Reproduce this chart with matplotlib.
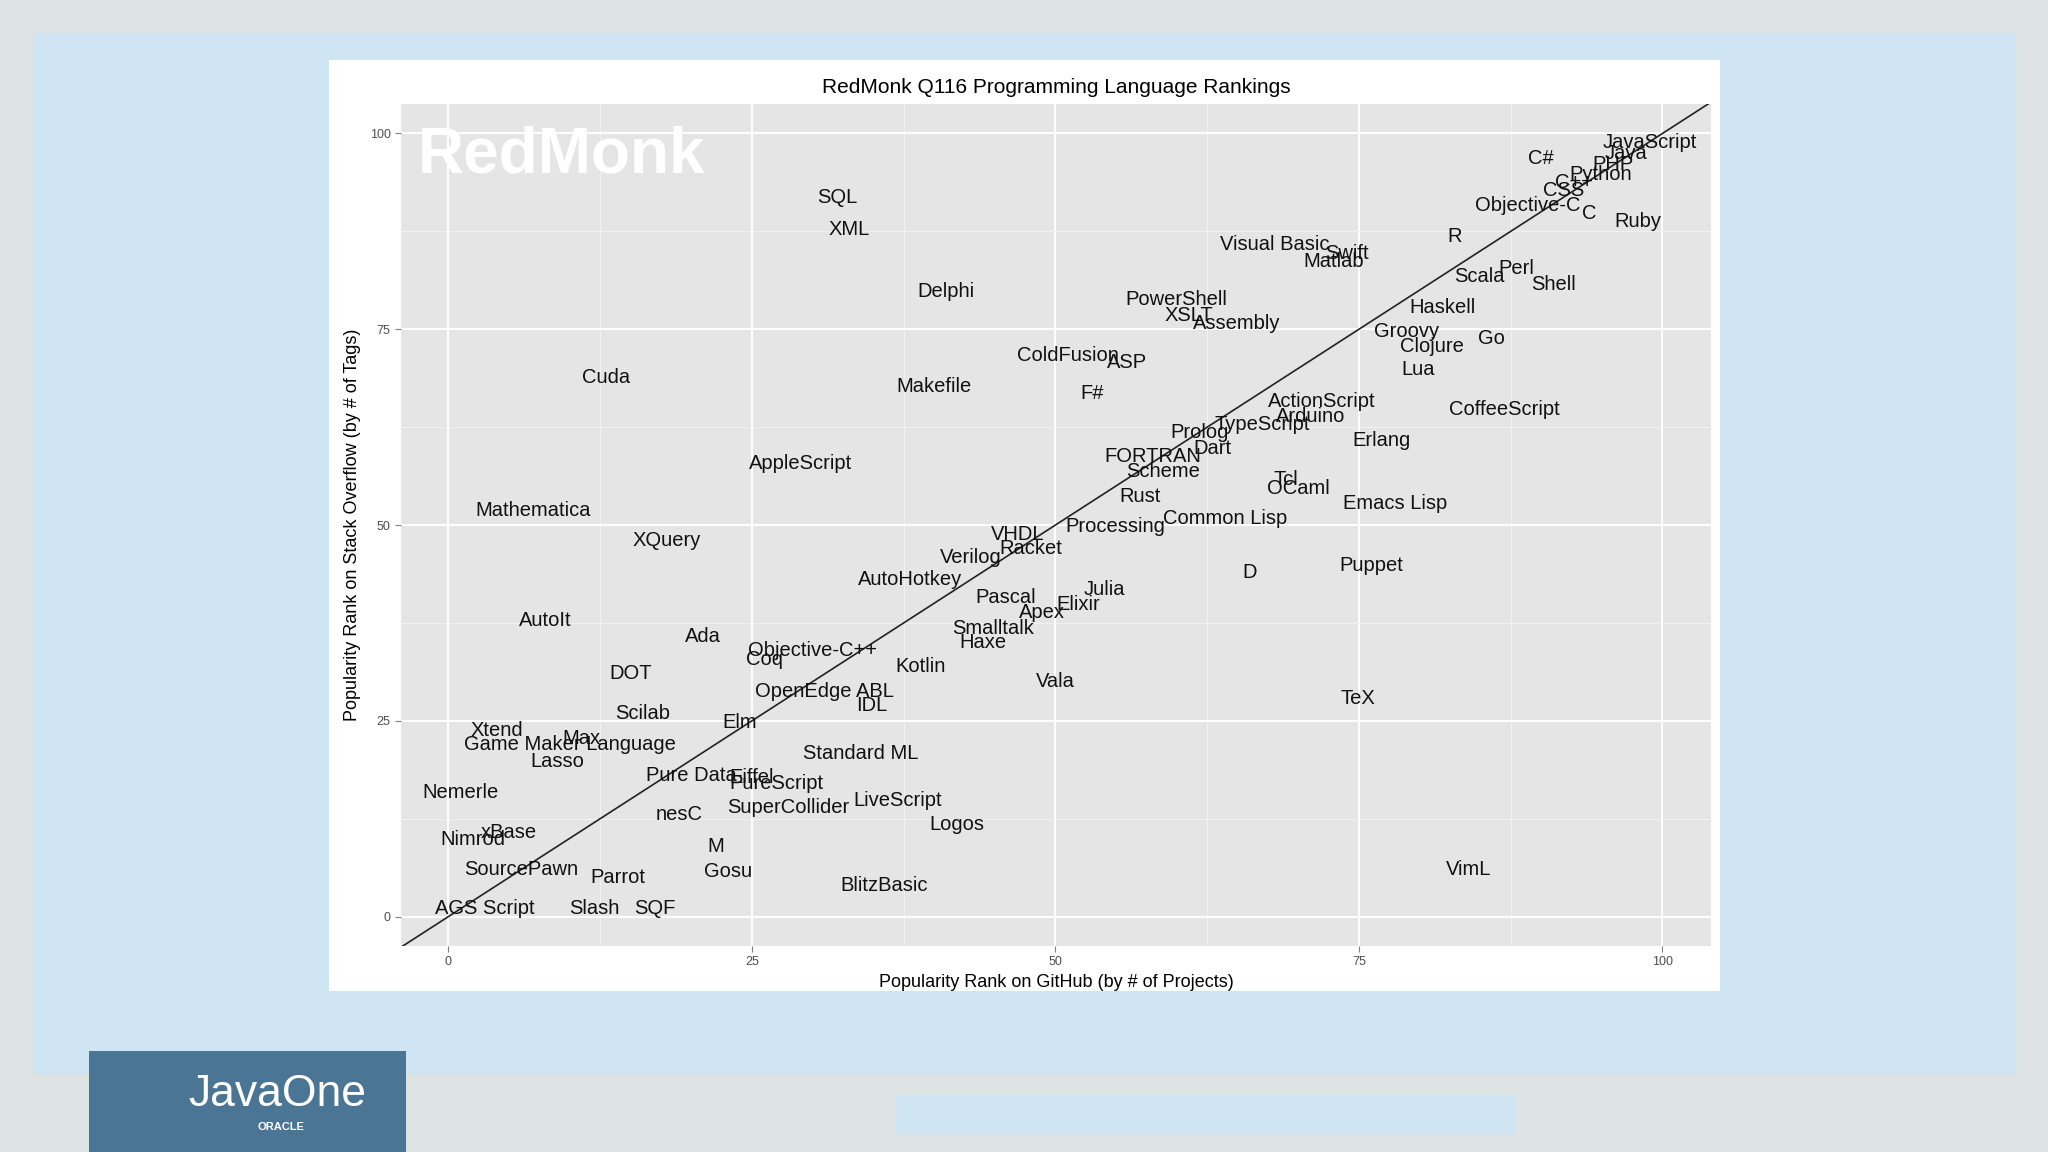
import matplotlib
matplotlib.use("Agg")
import matplotlib.pyplot as plt
from matplotlib.patches import Rectangle

plt.rcParams['font.family'] = ['Liberation Sans', 'DejaVu Sans']

languages = ["JavaScript","Java","PHP","Python","C++","CSS","C#","Objective-C","C","Ruby","R",
 "Visual Basic","Swift","Matlab","Scala","Perl","Shell","Haskell","Groovy","Go","Clojure","Lua",
 "CoffeeScript","ActionScript","Arduino","TypeScript","Prolog","Dart","Erlang","FORTRAN","Scheme",
 "Tcl","OCaml","Rust","Emacs Lisp","Common Lisp","Processing","VHDL","Racket","Verilog","D","Puppet",
 "AutoHotkey","Julia","Pascal","Elixir","Apex","Smalltalk","Haxe","Objective-C++","Coq","Kotlin",
 "Vala","OpenEdge ABL","IDL","TeX","SQL","XML","Delphi","PowerShell","XSLT","Assembly","ColdFusion",
 "ASP","F#","Makefile","Cuda","AppleScript","Mathematica","XQuery","AutoIt","Ada","DOT","Scilab",
 "Elm","Xtend","Max","Game Maker Language","Lasso","Standard ML","Pure Data","Eiffel","PureScript",
 "Nemerle","LiveScript","SuperCollider","nesC","Logos","Nimrod","xBase","M","SourcePawn","Parrot",
 "Gosu","BlitzBasic","VimL","AGS Script","Slash","SQF"]
github_rank = [99,97,95.9,94.9,92.7,91.9,90,88.9,94,98,82.9,
 68.1,74,72.9,84.9,88,91,81.9,78.9,85.9,81,79.9,
 87,71.9,71,67,61.9,62.9,76.9,58,58.9,
 69,70,57,78,64,54.9,46.9,48,43,66,76,
 38,54,45.9,51.9,48.9,44.9,44,30,26,38.9,
 50,31,34.9,74.9,32,33,41,60,61,64.9,51,
 55.9,53,40,13,29,7,18,8,21,15,16,
 24,4,11,10,9,34,20,25,27,
 1,37,28,19,41.9,2,5,22,6,14,
 23,35.9,84,3,12,17]
so_rank = [98.8,97.5,96,94.8,93.8,92.7,96.8,90.8,89.8,88.7,86.8,
 85.8,84.7,83.7,81.8,82.7,80.7,77.8,74.7,73.8,72.8,69.8,
 64.8,65.8,63.8,62.8,61.8,59.8,60.8,58.8,56.8,
 55.8,54.7,53.7,52.8,50.8,49.8,48.8,47,45.8,44,44.8,
 43,41.8,40.8,39.8,38.8,36.8,35,34,32.8,32,
 30,28.8,27,27.8,91.8,87.8,79.8,78.8,76.8,75.7,71.7,
 70.8,66.8,67.7,68.8,57.8,51.8,48,37.8,35.8,31,26,
 24.8,23.8,22.8,22,19.8,20.8,18,17.8,17,
 15.8,14.8,14,13,11.8,9.8,10.8,9,6,5,
 5.8,4,6,1,1,1]
ticks = [0, 25, 50, 75, 100]

W, H = 1568, 882
fig = plt.figure(figsize=(20.48, 11.52), dpi=100)
fig.patch.set_facecolor("#dde3e3")
def box(x0, y0, x1, y1, color, z=0):
    fig.add_artist(Rectangle((x0/W, 1-y1/H), (x1-x0)/W, (y1-y0)/H,
                             transform=fig.transFigure, facecolor=color, edgecolor="none", zorder=z))
box(25, 25, 1543, 822, "#d0e5f4")
box(252, 46, 1317, 759, "white")
box(685, 838, 1160, 868, "#d0e5f4")
box(68, 805, 311, 882, "#4b7595")
fig.text(212/W, 1-838/H, "JavaOne", color="white", fontsize=32, ha="center", va="center")
fig.text(215/W, 1-863/H, "ORACLE", color="white", fontsize=8, ha="center", va="center", weight="bold")

ax = fig.add_axes([307/W, 1-724/H, (1310-307)/W, (724-80)/H])
ax.set_facecolor("#e5e5e5")
ax.set_xlim(-3.9, 104)
ax.set_ylim(-3.7, 103.7)
ax.set_xticks(ticks)
ax.set_yticks(ticks)
ax.set_xticks([12.5, 37.5, 62.5, 87.5], minor=True)
ax.set_yticks([12.5, 37.5, 62.5, 87.5], minor=True)
ax.grid(which="major", color="white", linewidth=1.4)
ax.grid(which="minor", color="#f2f2f2", linewidth=0.7)
ax.set_axisbelow(True)
for s in ax.spines.values():
    s.set_visible(False)
ax.tick_params(which="major", length=4, color="#7f7f7f", labelsize=9, labelcolor="#4d4d4d")
ax.tick_params(which="minor", length=0)
ax.plot([-10, 110], [-10, 110], color="#222222", linewidth=1.2)
for name, x, y in zip(languages, github_rank, so_rank):
    ax.text(x, y, name, ha="center", va="center", fontsize=14.5, color="#111111")
ax.text(-2.5, 101, "RedMonk", color="white", fontsize=46, weight="bold", va="top", ha="left")
ax.set_title("RedMonk Q116 Programming Language Rankings", fontsize=15, pad=8)
ax.set_xlabel("Popularity Rank on GitHub (by # of Projects)", fontsize=13, labelpad=4)
ax.set_ylabel("Popularity Rank on Stack Overflow (by # of Tags)", fontsize=13, labelpad=6)
fig.savefig("out.png", dpi=100, facecolor=fig.get_facecolor())
